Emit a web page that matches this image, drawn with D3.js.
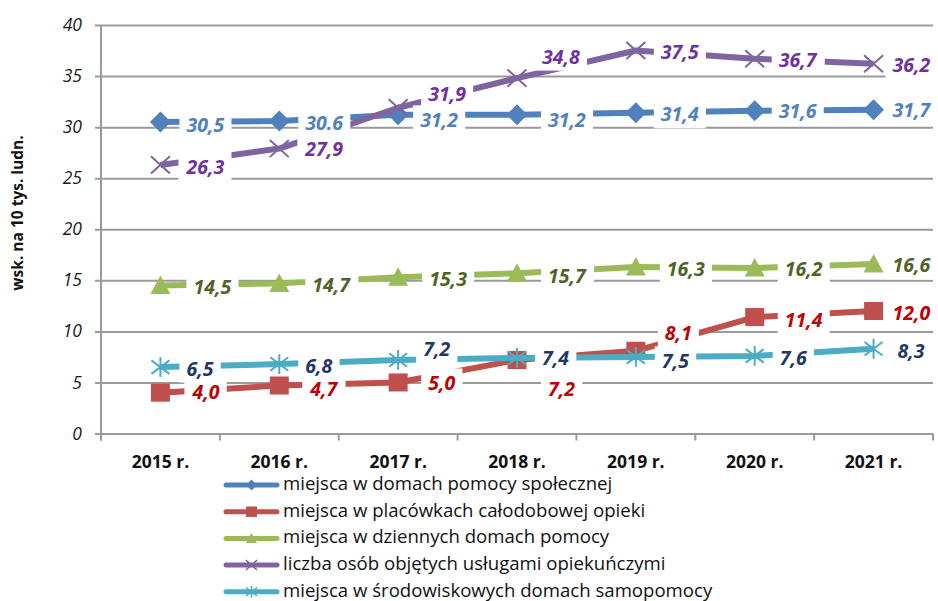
<!DOCTYPE html>
<html>
<head>
<meta charset="utf-8">
<script src="https://cdn.jsdelivr.net/npm/d3@7"></script>
<style>
  html, body { margin: 0; padding: 0; background: #fff; }
  svg { display: block; font-family: "Open Sans", "Liberation Sans", sans-serif; }
</style>
</head>
<body>
<svg id="chart" width="938" height="601"></svg>
<script>
// Years on the category axis
const categories = ["2015 r.", "2016 r.", "2017 r.", "2018 r.", "2019 r.", "2020 r.", "2021 r."];

// Indicator per 10 thousand inhabitants
const domyPomocySpolecznej = [30.5, 30.6, 31.2, 31.2, 31.4, 31.6, 31.7];
const placowkiCalodobowe   = [4.0, 4.7, 5.0, 7.2, 8.1, 11.4, 12.0];
const dzienneDomyPomocy    = [14.5, 14.7, 15.3, 15.7, 16.3, 16.2, 16.6];
const uslugiOpiekuncze     = [26.3, 27.9, 31.9, 34.8, 37.5, 36.7, 36.2];
const domySamopomocy       = [6.5, 6.8, 7.2, 7.4, 7.5, 7.6, 8.3];

const seriesNames = [
  "miejsca w domach pomocy społecznej",
  "miejsca w placówkach całodobowej opieki",
  "miejsca w dziennych domach pomocy",
  "liczba osób objętych usługami opiekuńczymi",
  "miejsca w środowiskowych domach samopomocy"
];

const yTicks = [0, 5, 10, 15, 20, 25, 30, 35, 40];
const yTitle = "wsk. na 10 tys. ludn.";

// Visual settings for each series (line colour, marker, label colour)
const styles = [
  { color: "#4F81BD", label: "#4F81BD", marker: "diamond" },
  { color: "#C0504D", label: "#C00000", marker: "square" },
  { color: "#9BBB59", label: "#4F6228", marker: "triangle" },
  { color: "#8064A2", label: "#7030A0", marker: "x" },
  { color: "#4BACC6", label: "#1F3864", marker: "star" }
];

// Value label placement: [offset of text start from point, vertical offset of text centre]
const labelNudge = [
  [[26, 2], [26, 1.5], [22, 5], [31, 4.6], [25, 1], [24, 0], [19, 0]],
  [[32, -1], [31, 2.5], [30, 0.5], [31, 29], [29, -18], [30, 2], [19, 1.5]],
  [[33, 0.6], [33, 1.6], [31, 1], [31, 2], [31, 1], [30, 0], [19, 1]],
  [[26, 1.6], [26, 0], [30, -14], [25, -22], [25, 0.5], [24, 1], [19, 1]],
  [[26, 1], [26, 1], [25, -11], [25, 0], [26, 4], [25, 1.6], [24, 2]]
];

const seriesValues = [domyPomocySpolecznej, placowkiCalodobowe, dzienneDomyPomocy, uslugiOpiekuncze, domySamopomocy];

// Label text: Polish decimal comma; one label was published with a dot
const fmt = d => d.toFixed(1).replace(".", ",");
const labelOverride = { "0-1": "30.6" };

const svg = d3.select("#chart");

const plotLeft = 101, plotRight = 933, plotTop = 25, plotBottom = 433.5;
const x = d3.scaleBand().domain(categories).range([plotLeft, plotRight]).padding(0);
const y = d3.scaleLinear().domain([0, 40]).range([plotBottom, plotTop]);
const cx = c => x(c) + x.bandwidth() / 2;

const gridColor = "#9a9a9a";

// Horizontal gridlines with y tick labels
const yAxis = d3.axisLeft(y).tickValues(yTicks).tickSize(plotRight - plotLeft + 6).tickPadding(13).tickFormat(d3.format("d"));
const gy = svg.append("g").attr("transform", `translate(${plotRight},0)`).call(yAxis);
gy.select(".domain").remove();
gy.selectAll(".tick line").attr("stroke", gridColor).attr("stroke-width", 2);
gy.selectAll(".tick text")
  .attr("font-size", 17.5).attr("font-style", "italic").attr("fill", "#1a1a1a")
  .attr("font-family", "Open Sans");

// Vertical axis line
svg.append("line").attr("x1", plotLeft).attr("x2", plotLeft).attr("y1", plotTop).attr("y2", plotBottom + 7)
  .attr("stroke", gridColor).attr("stroke-width", 2);

// Category axis with boundary ticks
const xAxis = d3.axisBottom(x).tickSize(0).tickPadding(22);
const gx = svg.append("g").attr("transform", `translate(0,${plotBottom})`).call(xAxis);
gx.select(".domain").remove();
gx.selectAll(".tick text").attr("font-size", 17.5).attr("font-weight", "bold").attr("fill", "#111")
  .attr("font-family", "Open Sans");
const edges = categories.map(c => x(c)).concat([plotRight]);
svg.append("g").selectAll("line").data(edges).join("line")
  .attr("x1", d => d).attr("x2", d => d).attr("y1", plotBottom).attr("y2", plotBottom + 7)
  .attr("stroke", gridColor).attr("stroke-width", 2);

// Axis title
svg.append("text").attr("transform", "translate(23,213) rotate(-90)")
  .attr("text-anchor", "middle").attr("font-size", 15.5).attr("font-weight", "bold").attr("fill", "#111")
  .text(yTitle);

// Marker path builders
function markerPath(type, s) {
  const p = d3.path();
  if (type === "diamond") {
    p.moveTo(0, -s); p.lineTo(s, 0); p.lineTo(0, s); p.lineTo(-s, 0); p.closePath();
  } else if (type === "square") {
    p.rect(-s, -s * 0.95, 2 * s, 1.9 * s);
  } else if (type === "triangle") {
    p.moveTo(0, -s); p.lineTo(s, s * 0.85); p.lineTo(-s, s * 0.85); p.closePath();
  } else if (type === "x") {
    p.moveTo(-s, -s * 0.9); p.lineTo(s, s * 0.9); p.moveTo(-s, s * 0.9); p.lineTo(s, -s * 0.9);
  } else if (type === "star") {
    p.moveTo(0, -s * 1.1); p.lineTo(0, s * 1.1);
    p.moveTo(-s, -s * 0.75); p.lineTo(s, s * 0.75); p.moveTo(-s, s * 0.75); p.lineTo(s, -s * 0.75);
  }
  return p.toString();
}
const stroked = t => t === "x" || t === "star";
const markerSize = { diamond: 10.5, square: 9.5, triangle: 10, x: 9.5, star: 9 };

const line = d3.line().x(d => cx(d.c)).y(d => y(d.v));

// Lines and markers, in series order
seriesValues.forEach((vals, si) => {
  const st = styles[si];
  const pts = vals.map((v, i) => ({ c: categories[i], v }));
  const g = svg.append("g");
  g.append("path").attr("d", line(pts)).attr("fill", "none")
    .attr("stroke", st.color).attr("stroke-width", 6).attr("stroke-linejoin", "round");
  g.selectAll("path.m").data(pts).join("path").attr("class", "m")
    .attr("transform", d => `translate(${cx(d.c)},${y(d.v)})`)
    .attr("d", markerPath(st.marker, markerSize[st.marker]))
    .attr("fill", stroked(st.marker) ? "none" : st.color)
    .attr("stroke", st.color)
    .attr("stroke-width", stroked(st.marker) ? 2 : 0);
});

// Value labels on white boxes
seriesValues.forEach((vals, si) => {
  const st = styles[si];
  vals.forEach((v, i) => {
    const [dx, dy] = labelNudge[si][i];
    const px = cx(categories[i]), py = y(v);
    const g = svg.append("g");
    const rect = g.append("rect").attr("fill", "#fff");
    const t = g.append("text")
      .attr("x", px + dx).attr("y", py + dy)
      .attr("dominant-baseline", "central")
      .attr("font-size", 19.5).attr("font-weight", "bold").attr("font-style", "italic")
      .attr("fill", st.label)
      .text(labelOverride[`${si}-${i}`] || fmt(v));
    const b = t.node().getBBox();
    rect.attr("x", b.x - 7).attr("y", b.y - 1).attr("width", b.width + 14).attr("height", b.height + 2);
  });
});

// Legend
const legendY = [485, 511.7, 538.4, 565.1, 591.8];
const lg = svg.append("g");
seriesNames.forEach((name, si) => {
  const st = styles[si];
  const ly = legendY[si];
  lg.append("line").attr("x1", 226).attr("x2", 277).attr("y1", ly).attr("y2", ly)
    .attr("stroke", st.color).attr("stroke-width", 5).attr("stroke-linecap", "round");
  lg.append("path").attr("transform", `translate(251.5,${ly})`)
    .attr("d", markerPath(st.marker, 5.5))
    .attr("fill", stroked(st.marker) ? "none" : st.color)
    .attr("stroke", st.color).attr("stroke-width", stroked(st.marker) ? 1.5 : 0);
  lg.append("text").attr("x", 283).attr("y", ly + 5)
    .attr("font-size", 18.6).attr("fill", "#111").text(name);
});
</script>
</body>
</html>
